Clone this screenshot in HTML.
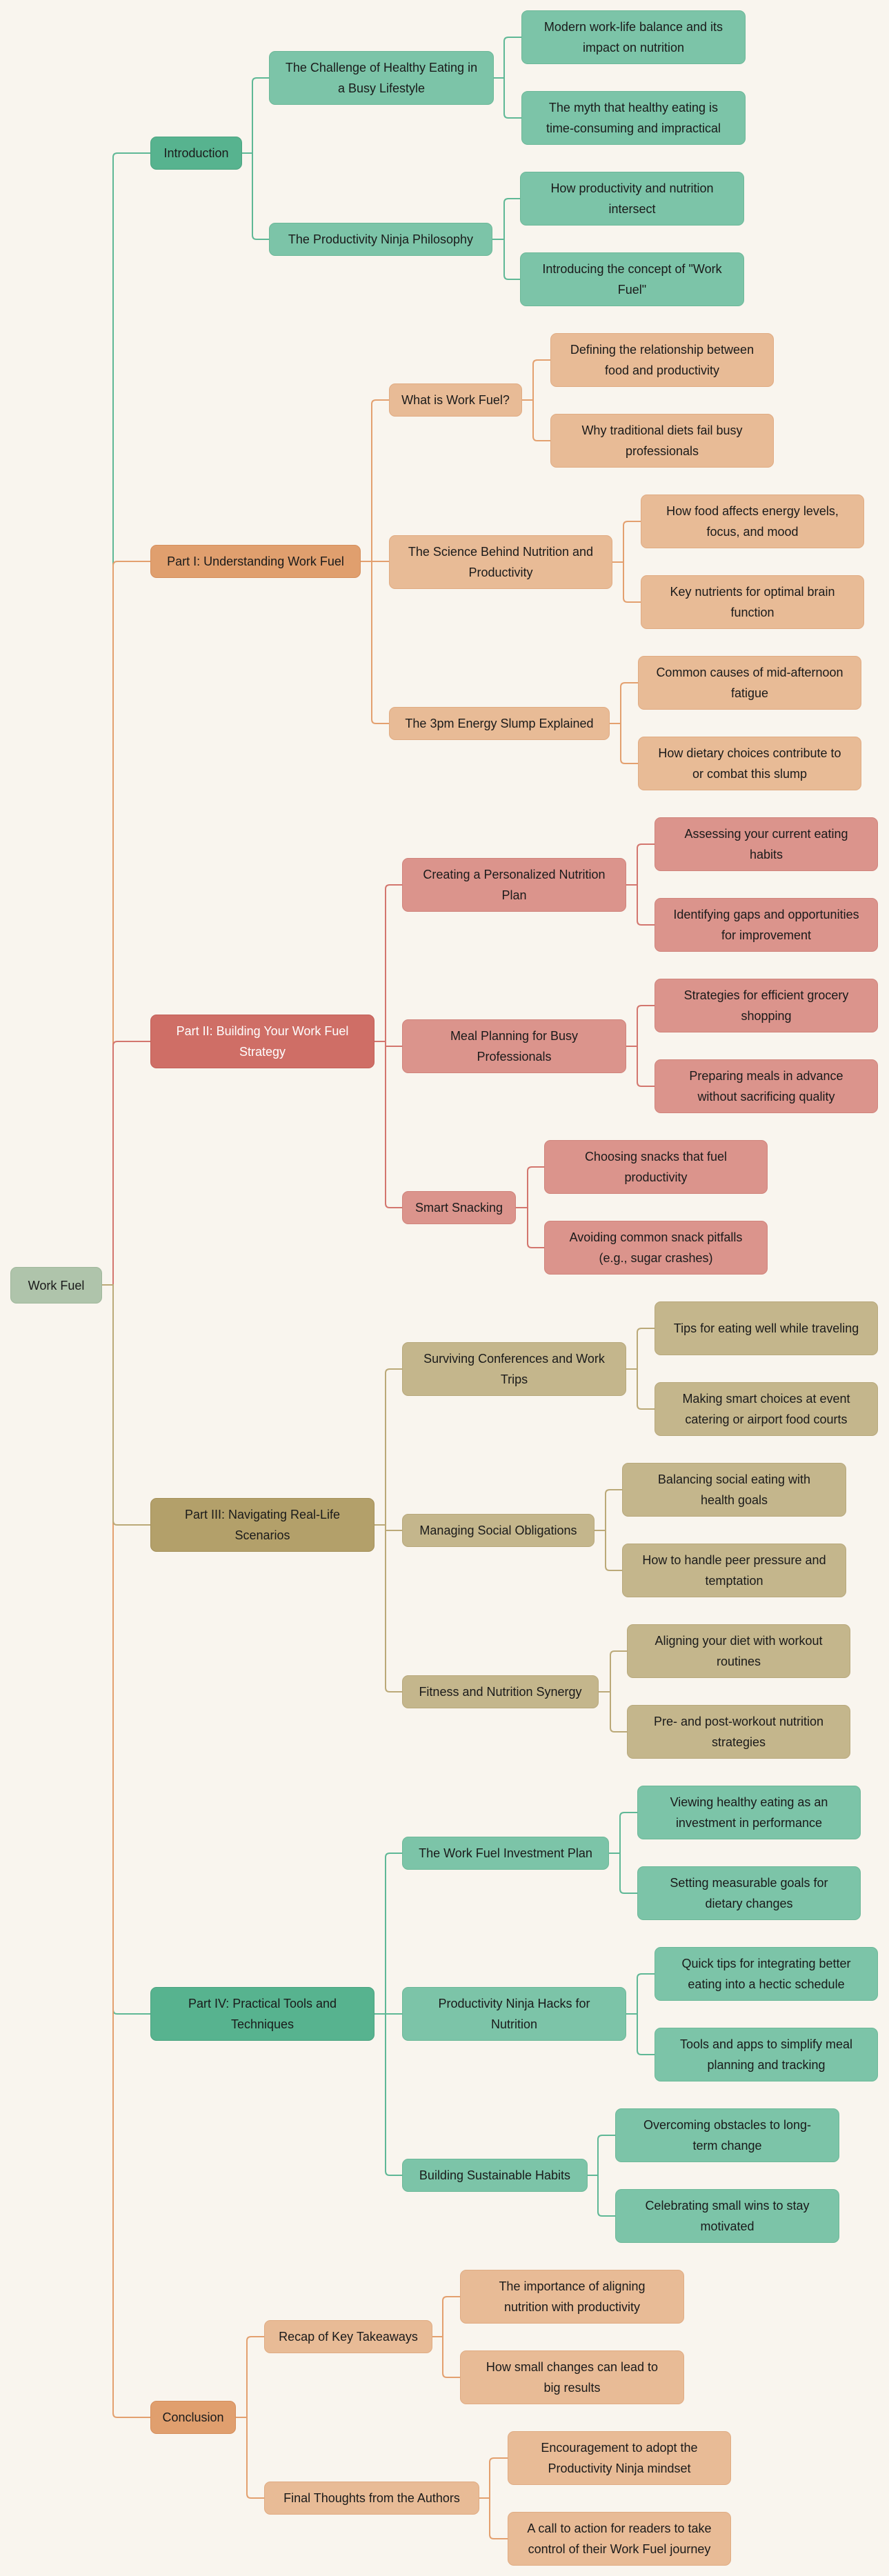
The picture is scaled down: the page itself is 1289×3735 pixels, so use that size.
<!DOCTYPE html>
<html><head><meta charset="utf-8"><style>
html,body{margin:0;padding:0;background:#f9f5ee;}
body{width:1289px;height:3735px;position:relative;overflow:hidden;font-family:"Liberation Sans",sans-serif;}
.b{position:absolute;box-sizing:border-box;display:flex;align-items:center;justify-content:center;text-align:center;font-size:18px;line-height:30px;color:#1a1a1a;border-radius:9px;white-space:nowrap;}
.g1{background:#57b38f;border:1.5px solid #4aa27f;}
.g2{background:#7cc4a8;border:1.5px solid #6cb898;}
.o1{background:#e09f6e;border:1.5px solid #d58e5b;}
.o2{background:#e8bb96;border:1.5px solid #e0ab82;}
.r1{background:#cf6e66;border:1.5px solid #c25f57;color:#fff;}
.r2{background:#db948c;border:1.5px solid #d0837b;}
.y1{background:#b3a06a;border:1.5px solid #a48f58;}
.y2{background:#c4b68c;border:1.5px solid #b8a87b;}
.rt{background:#afc4ab;border:1.5px solid #9fb79b;}
svg{position:absolute;left:0;top:0;}
path{fill:none;stroke-width:2;}
</style></head><body>
<svg width="1289" height="3735">
<g stroke="#5fb896">
<path d="M148 1863 H164 V228 Q164 222 170 222 H218"/>
<path d="M351 222 H366 V119 Q366 113 372 113 H390"/><path d="M351 222 H366 V341 Q366 347 372 347 H390"/>
<path d="M716 113 H731 V60 Q731 54 737 54 H756"/><path d="M716 113 H731 V165 Q731 171 737 171 H756"/>
<path d="M714 347 H731 V294 Q731 288 737 288 H754"/><path d="M714 347 H731 V399 Q731 405 737 405 H754"/>
<path d="M148 1863 H164 V2914 Q164 2920 170 2920 H218"/>
<path d="M543 2920 H559 V2693 Q559 2687 565 2687 H583"/><path d="M543 2920 H583"/><path d="M543 2920 H559 V3148 Q559 3154 565 3154 H583"/>
<path d="M883 2687 H899 V2634 Q899 2628 905 2628 H924"/><path d="M883 2687 H899 V2739 Q899 2745 905 2745 H924"/>
<path d="M908 2920 H924 V2868 Q924 2862 930 2862 H949"/><path d="M908 2920 H924 V2973 Q924 2979 930 2979 H949"/>
<path d="M852 3154 H867 V3102 Q867 3096 873 3096 H892"/><path d="M852 3154 H867 V3207 Q867 3213 873 3213 H892"/>
</g>
<g stroke="#e3a06f">
<path d="M148 1863 H164 V820 Q164 814 170 814 H218"/>
<path d="M523 814 H539 V586 Q539 580 545 580 H564"/><path d="M523 814 H564"/><path d="M523 814 H539 V1043 Q539 1049 545 1049 H564"/>
<path d="M757 580 H773 V528 Q773 522 779 522 H798"/><path d="M757 580 H773 V633 Q773 639 779 639 H798"/>
<path d="M888 815 H904 V762 Q904 756 910 756 H929"/><path d="M888 815 H904 V867 Q904 873 910 873 H929"/>
<path d="M884 1049 H900 V996 Q900 990 906 990 H925"/><path d="M884 1049 H900 V1101 Q900 1107 906 1107 H925"/>
<path d="M148 1863 H164 V3499 Q164 3505 170 3505 H218"/>
<path d="M342 3505 H358 V3394 Q358 3388 364 3388 H383"/><path d="M342 3505 H358 V3616 Q358 3622 364 3622 H383"/>
<path d="M627 3388 H642 V3336 Q642 3330 648 3330 H667"/><path d="M627 3388 H642 V3441 Q642 3447 648 3447 H667"/>
<path d="M695 3622 H710 V3570 Q710 3564 716 3564 H736"/><path d="M695 3622 H710 V3675 Q710 3681 716 3681 H736"/>
</g>
<g stroke="#d3766e">
<path d="M148 1863 H164 V1516 Q164 1510 170 1510 H218"/>
<path d="M543 1510 H559 V1289 Q559 1283 565 1283 H583"/><path d="M543 1510 H559 V1517 H583"/><path d="M543 1510 H559 V1745 Q559 1751 565 1751 H583"/>
<path d="M908 1283 H924 V1230 Q924 1224 930 1224 H949"/><path d="M908 1283 H924 V1335 Q924 1341 930 1341 H949"/>
<path d="M908 1517 H924 V1464 Q924 1458 930 1458 H949"/><path d="M908 1517 H924 V1569 Q924 1575 930 1575 H949"/>
<path d="M748 1751 H765 V1698 Q765 1692 771 1692 H789"/><path d="M748 1751 H765 V1803 Q765 1809 771 1809 H789"/>
</g>
<g stroke="#bba978">
<path d="M148 1863 H164 V2205 Q164 2211 170 2211 H218"/>
<path d="M543 2211 H559 V1991 Q559 1985 565 1985 H583"/><path d="M543 2211 H559 V2219 H583"/><path d="M543 2211 H559 V2447 Q559 2453 565 2453 H583"/>
<path d="M908 1985 H924 V1932 Q924 1926 930 1926 H949"/><path d="M908 1985 H924 V2037 Q924 2043 930 2043 H949"/>
<path d="M862 2219 H878 V2166 Q878 2160 884 2160 H902"/><path d="M862 2219 H878 V2271 Q878 2277 884 2277 H902"/>
<path d="M868 2453 H885 V2400 Q885 2394 891 2394 H909"/><path d="M868 2453 H885 V2505 Q885 2511 891 2511 H909"/>
</g>
</svg>

<div class="b rt" style="left:15px;top:1837px;width:133px;height:53px">Work Fuel</div>

<div class="b g1" style="left:218px;top:198px;width:133px;height:48px">Introduction</div>
<div class="b g2" style="left:390px;top:74px;width:326px;height:78px">The Challenge of Healthy Eating in<br>a Busy Lifestyle</div>
<div class="b g2" style="left:756px;top:15px;width:325px;height:78px">Modern work-life balance and its<br>impact on nutrition</div>
<div class="b g2" style="left:756px;top:132px;width:325px;height:78px">The myth that healthy eating is<br>time-consuming and impractical</div>
<div class="b g2" style="left:390px;top:323px;width:324px;height:48px">The Productivity Ninja Philosophy</div>
<div class="b g2" style="left:754px;top:249px;width:325px;height:78px">How productivity and nutrition<br>intersect</div>
<div class="b g2" style="left:754px;top:366px;width:325px;height:78px">Introducing the concept of "Work<br>Fuel"</div>

<div class="b o1" style="left:218px;top:790px;width:305px;height:48px">Part I: Understanding Work Fuel</div>
<div class="b o2" style="left:564px;top:556px;width:193px;height:48px">What is Work Fuel?</div>
<div class="b o2" style="left:798px;top:483px;width:324px;height:78px">Defining the relationship between<br>food and productivity</div>
<div class="b o2" style="left:798px;top:600px;width:324px;height:78px">Why traditional diets fail busy<br>professionals</div>
<div class="b o2" style="left:564px;top:776px;width:324px;height:78px">The Science Behind Nutrition and<br>Productivity</div>
<div class="b o2" style="left:929px;top:717px;width:324px;height:78px">How food affects energy levels,<br>focus, and mood</div>
<div class="b o2" style="left:929px;top:834px;width:324px;height:78px">Key nutrients for optimal brain<br>function</div>
<div class="b o2" style="left:564px;top:1025px;width:320px;height:48px">The 3pm Energy Slump Explained</div>
<div class="b o2" style="left:925px;top:951px;width:324px;height:78px">Common causes of mid-afternoon<br>fatigue</div>
<div class="b o2" style="left:925px;top:1068px;width:324px;height:78px">How dietary choices contribute to<br>or combat this slump</div>

<div class="b r1" style="left:218px;top:1471px;width:325px;height:78px">Part II: Building Your Work Fuel<br>Strategy</div>
<div class="b r2" style="left:583px;top:1244px;width:325px;height:78px">Creating a Personalized Nutrition<br>Plan</div>
<div class="b r2" style="left:949px;top:1185px;width:324px;height:78px">Assessing your current eating<br>habits</div>
<div class="b r2" style="left:949px;top:1302px;width:324px;height:78px">Identifying gaps and opportunities<br>for improvement</div>
<div class="b r2" style="left:583px;top:1478px;width:325px;height:78px">Meal Planning for Busy<br>Professionals</div>
<div class="b r2" style="left:949px;top:1419px;width:324px;height:78px">Strategies for efficient grocery<br>shopping</div>
<div class="b r2" style="left:949px;top:1536px;width:324px;height:78px">Preparing meals in advance<br>without sacrificing quality</div>
<div class="b r2" style="left:583px;top:1727px;width:165px;height:48px">Smart Snacking</div>
<div class="b r2" style="left:789px;top:1653px;width:324px;height:78px">Choosing snacks that fuel<br>productivity</div>
<div class="b r2" style="left:789px;top:1770px;width:324px;height:78px">Avoiding common snack pitfalls<br>(e.g., sugar crashes)</div>

<div class="b y1" style="left:218px;top:2172px;width:325px;height:78px">Part III: Navigating Real-Life<br>Scenarios</div>
<div class="b y2" style="left:583px;top:1946px;width:325px;height:78px">Surviving Conferences and Work<br>Trips</div>
<div class="b y2" style="left:949px;top:1887px;width:324px;height:78px">Tips for eating well while traveling</div>
<div class="b y2" style="left:949px;top:2004px;width:324px;height:78px">Making smart choices at event<br>catering or airport food courts</div>
<div class="b y2" style="left:583px;top:2195px;width:279px;height:48px">Managing Social Obligations</div>
<div class="b y2" style="left:902px;top:2121px;width:325px;height:78px">Balancing social eating with<br>health goals</div>
<div class="b y2" style="left:902px;top:2238px;width:325px;height:78px">How to handle peer pressure and<br>temptation</div>
<div class="b y2" style="left:583px;top:2429px;width:285px;height:48px">Fitness and Nutrition Synergy</div>
<div class="b y2" style="left:909px;top:2355px;width:324px;height:78px">Aligning your diet with workout<br>routines</div>
<div class="b y2" style="left:909px;top:2472px;width:324px;height:78px">Pre- and post-workout nutrition<br>strategies</div>

<div class="b g1" style="left:218px;top:2881px;width:325px;height:78px">Part IV: Practical Tools and<br>Techniques</div>
<div class="b g2" style="left:583px;top:2663px;width:300px;height:48px">The Work Fuel Investment Plan</div>
<div class="b g2" style="left:924px;top:2589px;width:324px;height:78px">Viewing healthy eating as an<br>investment in performance</div>
<div class="b g2" style="left:924px;top:2706px;width:324px;height:78px">Setting measurable goals for<br>dietary changes</div>
<div class="b g2" style="left:583px;top:2881px;width:325px;height:78px">Productivity Ninja Hacks for<br>Nutrition</div>
<div class="b g2" style="left:949px;top:2823px;width:324px;height:78px">Quick tips for integrating better<br>eating into a hectic schedule</div>
<div class="b g2" style="left:949px;top:2940px;width:324px;height:78px">Tools and apps to simplify meal<br>planning and tracking</div>
<div class="b g2" style="left:583px;top:3130px;width:269px;height:48px">Building Sustainable Habits</div>
<div class="b g2" style="left:892px;top:3057px;width:325px;height:78px">Overcoming obstacles to long-<br>term change</div>
<div class="b g2" style="left:892px;top:3174px;width:325px;height:78px">Celebrating small wins to stay<br>motivated</div>

<div class="b o1" style="left:218px;top:3481px;width:124px;height:48px">Conclusion</div>
<div class="b o2" style="left:383px;top:3364px;width:244px;height:48px">Recap of Key Takeaways</div>
<div class="b o2" style="left:667px;top:3291px;width:325px;height:78px">The importance of aligning<br>nutrition with productivity</div>
<div class="b o2" style="left:667px;top:3408px;width:325px;height:78px">How small changes can lead to<br>big results</div>
<div class="b o2" style="left:383px;top:3598px;width:312px;height:48px">Final Thoughts from the Authors</div>
<div class="b o2" style="left:736px;top:3525px;width:324px;height:78px">Encouragement to adopt the<br>Productivity Ninja mindset</div>
<div class="b o2" style="left:736px;top:3642px;width:324px;height:78px">A call to action for readers to take<br>control of their Work Fuel journey</div>
</body></html>
